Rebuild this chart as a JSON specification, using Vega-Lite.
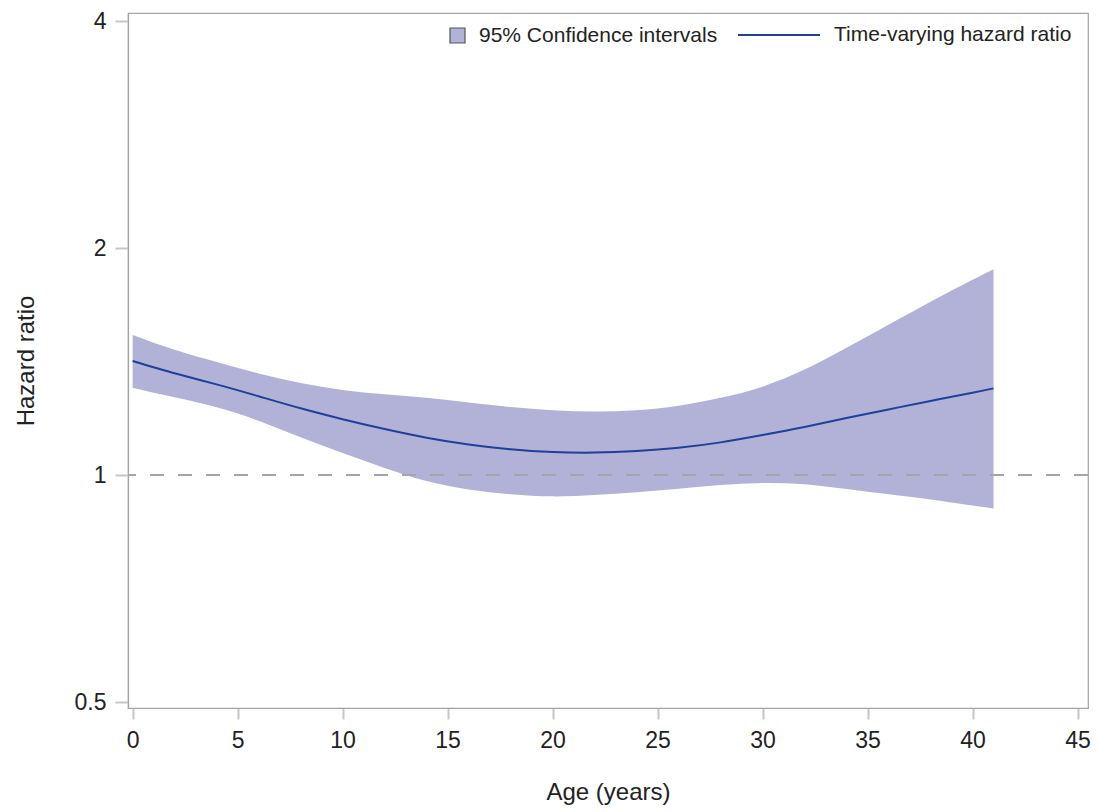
{
  "$schema": "https://vega.github.io/schema/vega-lite/v6.json",
  "width": 960,
  "height": 695,
  "autosize": {"type": "none"},
  "padding": {"left": 128, "top": 13, "right": 12, "bottom": 104},
  "background": "white",
  "config": {
    "font": "Liberation Sans",
    "view": {"stroke": "#a0a4a8", "strokeWidth": 1.2},
    "axis": {
      "domainColor": "#a0a4a8",
      "domainWidth": 1.2,
      "tickColor": "#c6c6c6",
      "tickWidth": 2,
      "labelFont": "Liberation Sans",
      "labelFontSize": 23,
      "labelColor": "#222",
      "titleFont": "Liberation Sans",
      "titleFontSize": 24,
      "titleFontWeight": "normal",
      "titleColor": "#222",
      "grid": false
    },
    "legend": {
      "labelFont": "Liberation Sans",
      "labelFontSize": 21,
      "labelColor": "#222",
      "labelLimit": 400,
      "padding": 0
    }
  },
  "data": {
    "values": [
      {"age": 0, "hr": 1.417, "lo": 1.306, "hi": 1.534},
      {"age": 2, "hr": 1.365, "lo": 1.268, "hi": 1.466},
      {"age": 4, "hr": 1.319, "lo": 1.230, "hi": 1.412},
      {"age": 6, "hr": 1.272, "lo": 1.180, "hi": 1.364},
      {"age": 8, "hr": 1.226, "lo": 1.122, "hi": 1.325},
      {"age": 10, "hr": 1.186, "lo": 1.070, "hi": 1.297},
      {"age": 12, "hr": 1.151, "lo": 1.022, "hi": 1.280},
      {"age": 14, "hr": 1.121, "lo": 0.982, "hi": 1.266},
      {"age": 16, "hr": 1.098, "lo": 0.957, "hi": 1.248},
      {"age": 18, "hr": 1.082, "lo": 0.943, "hi": 1.231},
      {"age": 20, "hr": 1.073, "lo": 0.937, "hi": 1.219},
      {"age": 22, "hr": 1.071, "lo": 0.941, "hi": 1.214},
      {"age": 24, "hr": 1.076, "lo": 0.949, "hi": 1.219},
      {"age": 26, "hr": 1.087, "lo": 0.959, "hi": 1.236},
      {"age": 28, "hr": 1.105, "lo": 0.970, "hi": 1.266},
      {"age": 30, "hr": 1.130, "lo": 0.976, "hi": 1.310},
      {"age": 32, "hr": 1.158, "lo": 0.972, "hi": 1.380},
      {"age": 34, "hr": 1.190, "lo": 0.958, "hi": 1.475},
      {"age": 36, "hr": 1.222, "lo": 0.943, "hi": 1.582},
      {"age": 38, "hr": 1.254, "lo": 0.928, "hi": 1.697},
      {"age": 40, "hr": 1.286, "lo": 0.911, "hi": 1.815},
      {"age": 41, "hr": 1.303, "lo": 0.903, "hi": 1.875}
    ]
  },
  "encoding": {
    "x": {
      "field": "age",
      "type": "quantitative",
      "title": "Age (years)",
      "scale": {"domain": [-0.22, 45.5], "nice": false, "zero": false},
      "axis": {"values": [0, 5, 10, 15, 20, 25, 30, 35, 40, 45], "tickSize": 11, "labelPadding": 10, "titlePadding": 28, "labelFlush": false}
    }
  },
  "layer": [
    {
      "mark": {"type": "area", "interpolate": "natural"},
      "encoding": {
        "y": {
          "field": "lo",
          "type": "quantitative",
          "title": "Hazard ratio",
          "scale": {"type": "log", "domain": [0.491, 4.1], "nice": false},
          "axis": {"values": [0.5, 1, 2, 4], "format": "~g", "tickSize": 13, "labelPadding": 9, "titlePadding": 36}
        },
        "y2": {"field": "hi"},
        "fill": {
          "datum": "95% Confidence intervals",
          "type": "nominal",
          "scale": {"range": ["#b2b2d9"]},
          "legend": {
            "orient": "none", "legendX": 319, "legendY": 12, "title": null,
            "symbolType": "square", "symbolSize": 225,
            "symbolStrokeColor": "#555", "symbolStrokeWidth": 1.2,
            "labelOffset": 11
          }
        }
      }
    },
    {
      "mark": {"type": "rule", "color": "#a4a4ac", "strokeWidth": 2, "strokeDash": [14, 14]},
      "encoding": {"y": {"datum": 1, "type": "quantitative"}, "x": null}
    },
    {
      "mark": {"type": "line", "strokeWidth": 2, "interpolate": "natural"},
      "encoding": {
        "y": {"field": "hr", "type": "quantitative"},
        "stroke": {
          "datum": "Time-varying hazard ratio",
          "type": "nominal",
          "scale": {"range": ["#1f3f99"]},
          "legend": {
            "orient": "none", "legendX": 609, "legendY": -20, "title": null,
            "symbolType": "stroke", "symbolSize": 6724, "symbolStrokeWidth": 2,
            "labelOffset": 13
          }
        }
      }
    }
  ]
}
